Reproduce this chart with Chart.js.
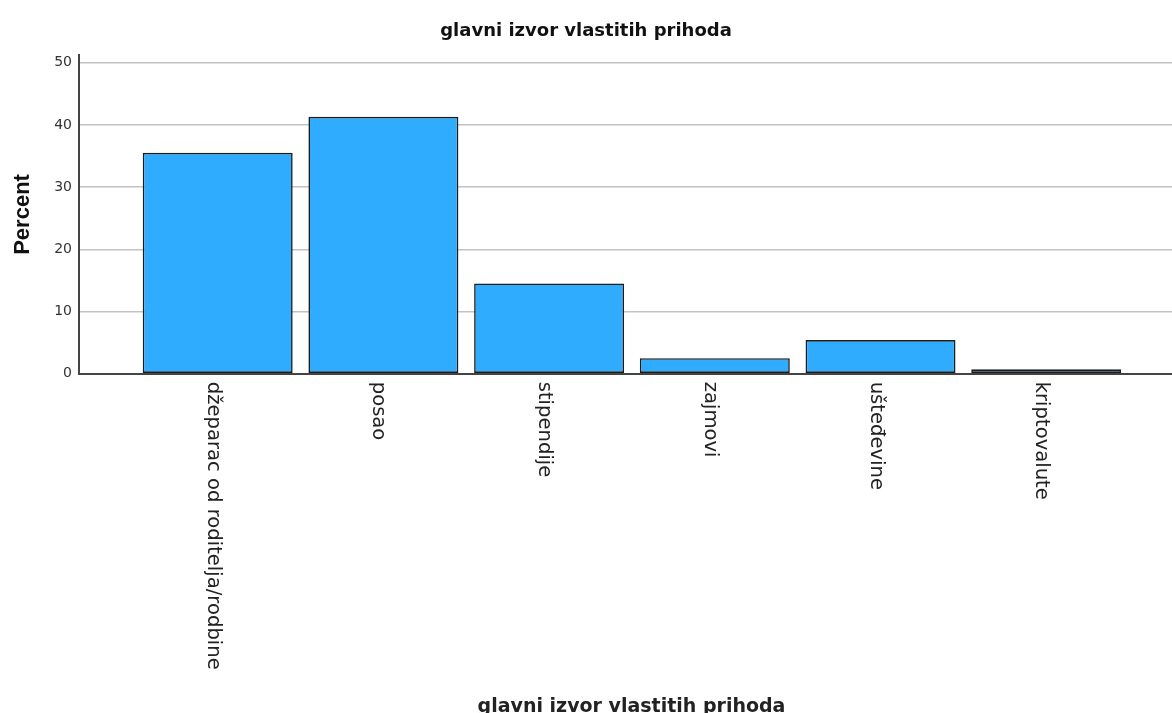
<!DOCTYPE html>
<html>
<head>
<meta charset="utf-8">
<script src="https://cdn.jsdelivr.net/npm/chart.js@4.4.1/dist/chart.umd.min.js"></script>
<style>
  html, body { margin: 0; padding: 0; background: #fff; }
  #wrap { width: 1172px; height: 713px; position: relative; }
</style>
</head>
<body>
<div id="wrap"><canvas id="chart"></canvas></div>
<script>
// glavni izvor vlastitih prihoda - percent per category
const categories = [
  "džeparac od roditelja/rodbine",
  "posao",
  "stipendije",
  "zajmovi",
  "ušteđevine",
  "kriptovalute",
];
const percentValues = [35.5, 41.3, 14.5, 2.5, 5.4, 0.7];
const yTicks = [0, 10, 20, 30, 40, 50];

const chartTitle = "glavni izvor vlastitih prihoda";
const xTitle = "glavni izvor vlastitih prihoda";
const yTitle = "Percent";

// draws the rotated category labels and the x axis title
const categoryLabels = {
  id: "categoryLabels",
  afterDraw(chart) {
    const ctx = chart.ctx;
    const xScale = chart.scales.x;
    const area = chart.chartArea;
    ctx.save();
    ctx.fillStyle = "#222";
    ctx.font = "19.6px 'DejaVu Sans'";
    ctx.textAlign = "left";
    ctx.textBaseline = "alphabetic";
    categories.forEach((label, i) => {
      const x = xScale.getPixelForValue(i);
      ctx.save();
      ctx.translate(x - 10, area.bottom + 8);
      ctx.rotate(Math.PI / 2);
      ctx.fillText(label, 0, 0);
      ctx.restore();
    });
    ctx.font = "bold 19px 'DejaVu Sans'";
    ctx.textAlign = "center";
    ctx.fillText(xTitle, (area.left + area.right) / 2 + 6, 712);
    ctx.restore();
  },
};

const ctx = document.getElementById("chart").getContext("2d");
new Chart(ctx, {
  type: "bar",
  data: {
    datasets: [
      {
        label: yTitle,
        data: categories.map((c, i) => ({ x: i, y: percentValues[i] })),
        backgroundColor: "#30acff",
        borderColor: "#1c1c1c",
        borderWidth: 1.6,
        borderSkipped: false,
        barPercentage: 0.905,
        categoryPercentage: 1,
      },
    ],
  },
  options: {
    responsive: true,
    maintainAspectRatio: false,
    animation: false,
    layout: { padding: 0 },
    plugins: {
      legend: { display: false },
      tooltip: { enabled: false },
      title: {
        display: true,
        text: chartTitle,
        color: "#111",
        font: { family: "'DejaVu Sans'", size: 18, weight: "bold" },
        padding: { top: 21, bottom: 12.6 },
      },
    },
    scales: {
      x: {
        type: "linear",
        offset: false,
        min: -0.837,
        max: 5.759,
        afterBuildTicks(scale) {
          scale.ticks = categories.map((c, i) => ({ value: i }));
        },
        grid: { display: false, drawTicks: false, offset: false },
        border: { display: true, color: "#444", width: 2 },
        ticks: { display: false },
        afterFit(scale) {
          scale.height = 339.3;
        },
      },
      y: {
        min: 0,
        max: 51.2,
        afterBuildTicks(scale) {
          scale.ticks = yTicks.map((v) => ({ value: v }));
        },
        grid: { color: "#c2c2c2", lineWidth: 1.5, drawTicks: false },
        border: { display: true, color: "#444", width: 2 },
        ticks: {
          padding: 7,
          color: "#333",
          font: { family: "'DejaVu Sans'", size: 14 },
        },
        title: {
          display: true,
          text: yTitle,
          color: "#111",
          font: { family: "'Liberation Sans'", size: 22, weight: "bold" },
          padding: { top: 10, bottom: 0 },
        },
        afterFit(scale) {
          scale.width = 79;
        },
      },
    },
  },
  plugins: [categoryLabels],
});
</script>
</body>
</html>
